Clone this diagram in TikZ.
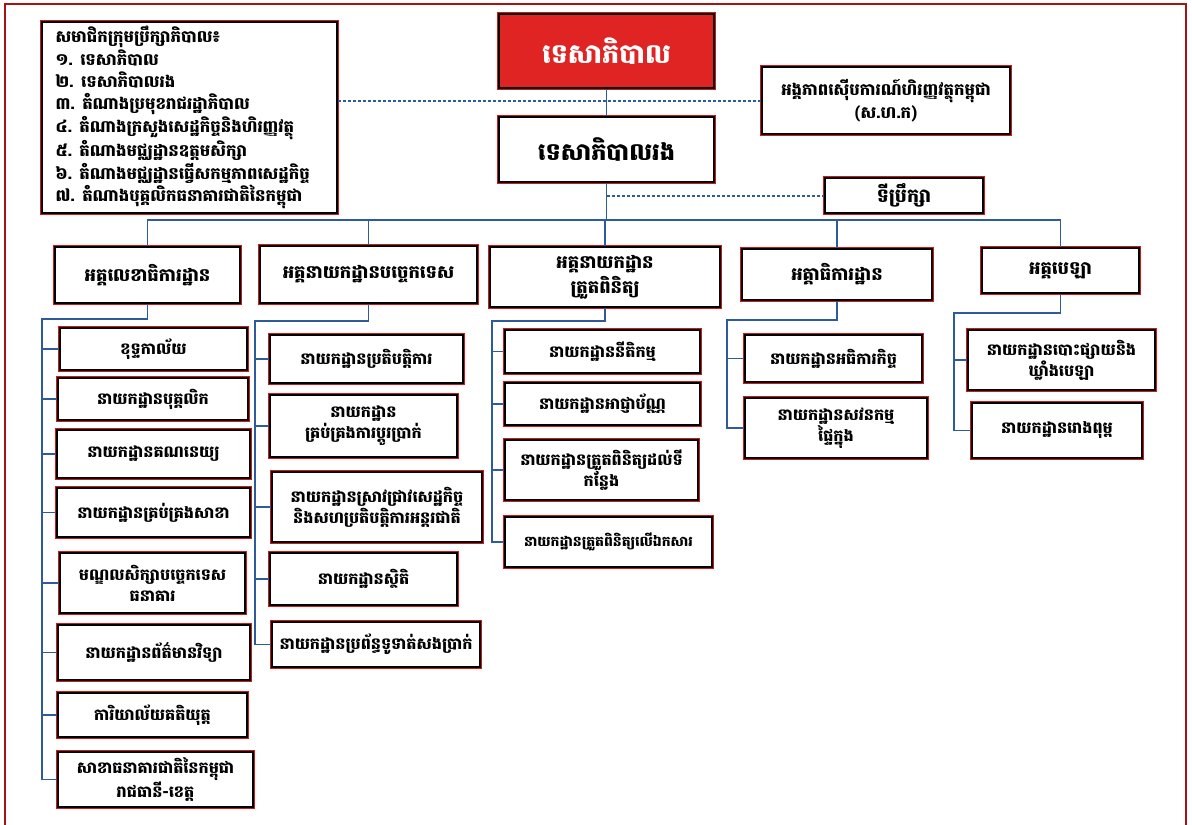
\documentclass[tikz,border=0pt]{standalone}
\usepackage{fontspec}
\newfontfamily\kh[Script=Khmer]{Battambang}
\definecolor{conn}{HTML}{2E5C9A}
\definecolor{govred}{HTML}{E02424}
\definecolor{fringe}{HTML}{D01818}
\newcommand{\bx}[7][]{%
  \node[box,#1,minimum width={(#5-#3)*1pt},minimum height={(#6-#4)*1pt}] (#2) at ({(#3+#5)/2},{(#4+#6)/2}) {#7};}
\begin{document}
\begin{tikzpicture}[x=1pt,y=-1pt,
  box/.style={draw=black,line width=2.2pt,fill=white,align=center,inner sep=1pt,
    font=\kh\bfseries\fontsize{16}{21}\selectfont,
    preaction={draw=fringe,line width=3.4pt}},
  hdr/.style={font=\kh\bfseries\fontsize{18}{25}\selectfont},
  link/.style={draw=conn,line width=1.1pt},
  dlink/.style={draw=conn,line width=2pt,densely dashed}]
\useasboundingbox (0,0) rectangle (1192,825);
\draw[fringe!80!black,line width=1.4pt] (5,830) -- (5,4) -- (1186,4) -- (1186,830);

% top level
\bx[fill=govred,text=white,font=\kh\bfseries\fontsize{27}{30}\selectfont]{gov}{499}{14}{714}{88}{ទេសាភិបាល}
\bx[font=\kh\bfseries\fontsize{24}{28}\selectfont]{dep}{499}{117}{714}{182}{ទេសាភិបាលរង}
\bx[font=\kh\bfseries\fontsize{16.5}{23}\selectfont]{cafiu}{762}{67}{1010}{134}{អង្គភាពស៊ើបការណ៍ហិរញ្ញវត្ថុកម្ពុជា\\(ស.ហ.ក)}
\bx[font=\kh\bfseries\fontsize{19}{22}\selectfont]{adv}{825}{178}{983}{213}{ទីប្រឹក្សា}
\bx[align=left,font=\kh\bfseries\fontsize{16.5}{22.4}\selectfont]{board}{42}{22}{337}{213}{%
\parbox{268pt}{\raggedright
សមាជិកក្រុមប្រឹក្សាភិបាល៖\\
១. ទេសាភិបាល\\
២. ទេសាភិបាលរង\\
៣. តំណាងប្រមុខរាជរដ្ឋាភិបាល\\
៤. តំណាងក្រសួងសេដ្ឋកិច្ចនិងហិរញ្ញវត្ថុ\\
៥. តំណាងមជ្ឈដ្ឋានឧត្តមសិក្សា\\
៦. តំណាងមជ្ឈដ្ឋានធ្វើសកម្មភាពសេដ្ឋកិច្ច\\
៧. តំណាងបុគ្គលិកធនាគារជាតិនៃកម្ពុជា}}

% headers
\bx[hdr]{h1}{55}{247}{240}{303}{អគ្គលេខាធិការដ្ឋាន}
\bx[hdr]{h2}{260}{246}{477}{303}{អគ្គនាយកដ្ឋានបច្ចេកទេស}
\bx[hdr]{h3}{490}{247}{720}{307}{អគ្គនាយកដ្ឋាន\\ត្រួតពិនិត្យ}
\bx[hdr]{h4}{742}{249}{932}{300}{អគ្គាធិការដ្ឋាន}
\bx[hdr]{h5}{982}{248}{1139}{293}{អគ្គបេឡា}

% column 1
\bx{a1}{60}{328}{247}{370}{ខុទ្ទកាល័យ}
\bx{a2}{58}{378}{248}{420}{នាយកដ្ឋានបុគ្គលិក}
\bx{a3}{57}{430}{250}{478}{នាយកដ្ឋានគណនេយ្យ}
\bx{a4}{57}{488}{250}{537}{នាយកដ្ឋានគ្រប់គ្រងសាខា}
\bx{a5}{60}{553}{245}{613}{មណ្ឌលសិក្សាបច្ចេកទេស\\ធនាគារ}
\bx{a6}{58}{625}{250}{680}{នាយកដ្ឋានព័ត៌មានវិទ្យា}
\bx{a7}{58}{693}{247}{737}{ការិយាល័យគតិយុត្ត}
\bx{a8}{58}{752}{253}{807}{សាខាធនាគារជាតិនៃកម្ពុជា\\រាជធានី-ខេត្ត}

% column 2
\bx{b1}{270}{335}{463}{383}{នាយកដ្ឋានប្រតិបត្តិការ}
\bx{b2}{270}{395}{457}{457}{នាយកដ្ឋាន\\គ្រប់គ្រងការប្តូរប្រាក់}
\bx{b3}{272}{472}{482}{542}{នាយកដ្ឋានស្រាវជ្រាវសេដ្ឋកិច្ច\\និងសហប្រតិបត្តិការអន្តរជាតិ}
\bx{b4}{270}{553}{457}{605}{នាយកដ្ឋានស្ថិតិ}
\bx{b5}{272}{622}{480}{667}{នាយកដ្ឋានប្រព័ន្ធទូទាត់សងប្រាក់}

% column 3
\bx{c1}{505}{330}{700}{373}{នាយកដ្ឋាននីតិកម្ម}
\bx{c2}{505}{383}{700}{425}{នាយកដ្ឋានអាជ្ញាប័ណ្ណ}
\bx{c3}{505}{440}{698}{500}{នាយកដ្ឋានត្រួតពិនិត្យដល់ទី\\កន្លែង}
\bx[font=\kh\bfseries\fontsize{14}{20}\selectfont]{c4}{505}{517}{712}{567}{នាយកដ្ឋានត្រួតពិនិត្យលើឯកសារ}

% column 4
\bx{d1}{745}{335}{922}{382}{នាយកដ្ឋានអធិការកិច្ច}
\bx{d2}{745}{398}{927}{458}{នាយកដ្ឋានសវនកម្ម\\ផ្ទៃក្នុង}

% column 5
\bx{e1}{968}{330}{1155}{390}{នាយកដ្ឋានបោះផ្សាយនិង\\ឃ្លាំងបេឡា}
\bx{e2}{972}{403}{1142}{458}{នាយកដ្ឋានរោងពុម្ព}

% top connectors
\draw[link] (gov.south) -- (dep.north);
\draw[dlink] (board.east |- cafiu.west) -- (cafiu.west);
\draw[dlink] (dep.south |- adv.west) -- (adv.west);
\coordinate (bus) at (0,220);
\draw[link] (dep.south) -- (dep.south |- bus);
\draw[link] (h1.north) -- (h1.north |- bus) -- (h5.north |- bus) -- (h5.north);
\draw[link] (h2.north) -- (h2.north |- bus);
\draw[link] (h3.north) -- (h3.north |- bus);
\draw[link] (h4.north) -- (h4.north |- bus);

% column trunks
\coordinate (t1) at (42,319);
\coordinate (t2) at (255,321);
\coordinate (t3) at (492,321);
\coordinate (t4) at (727,320);
\coordinate (t5) at (954,313);
\draw[link] (h1.south) |- (t1) |- (a8.west);
\foreach \n in {a1,a2,a3,a4,a5,a6,a7} \draw[link] (t1 |- \n.west) -- (\n.west);
\draw[link] (h2.south) |- (t2) |- (b5.west);
\foreach \n in {b1,b2,b3,b4} \draw[link] (t2 |- \n.west) -- (\n.west);
\draw[link] (h3.south) |- (t3) |- (c4.west);
\foreach \n in {c1,c2,c3} \draw[link] (t3 |- \n.west) -- (\n.west);
\draw[link] (h4.south) |- (t4) |- (d2.west);
\draw[link] (t4 |- d1.west) -- (d1.west);
\draw[link] (h5.south) |- (t5) |- (e2.west);
\draw[link] (t5 |- e1.west) -- (e1.west);
\end{tikzpicture}
\end{document}
